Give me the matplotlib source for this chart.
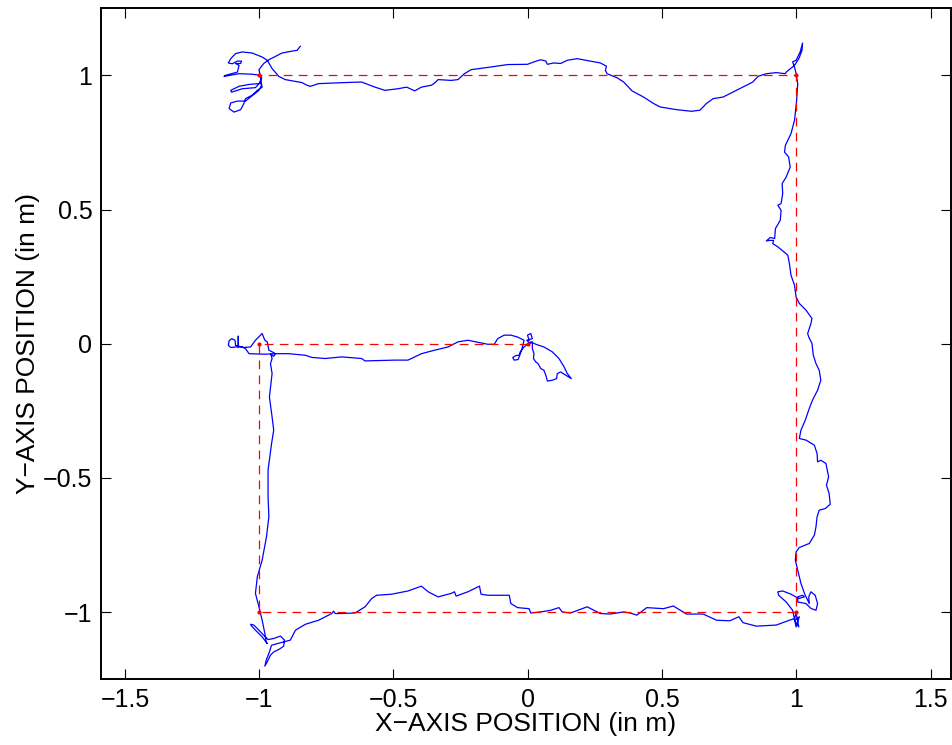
import numpy as np
import matplotlib
matplotlib.use("Agg")
import matplotlib.pyplot as plt

plt.rcParams['font.family'] = ['Liberation Sans', 'DejaVu Sans']

# commanded path (waypoints)
ref_x = [0, -1, -1, 1, 1, -1]
ref_y = [0, 0, -1, -1, 1, 1]

# measured robot position, one leg at a time (in m)
start_x = [0.005, -0.001, 0.011, 0.017, -0.004, 0.009, 0.017, 0.017, 0.023, 0.021, 0.030, 0.038,
           0.048, 0.060, 0.067, 0.073, 0.091, 0.107, 0.110, 0.122, 0.141, 0.162, 0.147, 0.135,
           0.116, 0.091, 0.060, 0.030, 0.011, -0.014, -0.028, -0.032, -0.044, -0.056, -0.051,
           -0.036, -0.032, -0.023, -0.014, -0.038, -0.063, -0.088, -0.112, -0.125]
start_y = [0.013, 0.032, 0.038, 0.019, 0.013, 0.001, 0.007, -0.018, -0.037, -0.055, -0.068, -0.074,
           -0.092, -0.099, -0.117, -0.139, -0.136, -0.130, -0.111, -0.105, -0.117, -0.130, -0.111, -0.086,
           -0.055, -0.030, -0.012, -0.002, 0.007, -0.012, -0.030, -0.043, -0.044, -0.051, -0.061,
           -0.059, -0.048, -0.024, 0.013, 0.025, 0.032, 0.032, 0.019, -0.002]

leg1_x = [-0.149, -0.223, -0.260, -0.297, -0.347, -0.396, -0.446, -0.495, -0.606, -0.619, -0.693,
          -0.754, -0.804, -0.828, -0.890, -0.940, -0.977, -1.038, -1.051, -1.063, -1.078, -1.078,
          -1.078, -1.088, -1.106, -1.115, -1.112, -1.102, -1.090, -1.088, -1.057, -1.032, -1.014,
          -0.989, -0.979, -0.970, -0.964, -0.952, -0.940, -0.946, -0.957, -0.952, -0.958, -0.952]
leg1_y = [-0.002, 0.013, 0.007, -0.012, -0.024, -0.037, -0.061, -0.061, -0.064, -0.055, -0.049,
          -0.055, -0.051, -0.043, -0.037, -0.037, -0.039, -0.037, -0.018, -0.012, -0.012, 0.028,
          -0.012, -0.012, -0.014, -0.006, 0.011, 0.019, 0.013, -0.006, -0.014, -0.012, 0.013,
          0.038, 0.013, 0.007, -0.024, -0.030, -0.037, -0.047, -0.039, -0.055, -0.074, -0.111]

leg2_x = [-0.962, -0.952, -0.946, -0.954, -0.967, -0.967, -0.964, -0.973, -0.989, -1.007, -1.014,
          -1.001, -0.989, -0.979, -0.974, -0.970, -0.989, -1.014, -1.028, -1.032, -1.020, -1.007,
          -0.983, -0.967, -0.946, -0.921, -0.906, -0.909, -0.927, -0.946, -0.958, -0.970, -0.979,
          -0.974, -0.962, -0.954]
leg2_y = [-0.198, -0.273, -0.322, -0.372, -0.471, -0.571, -0.645, -0.720, -0.806, -0.868, -0.930,
          -0.980, -1.030, -1.079, -1.111, -1.117, -1.092, -1.067, -1.052, -1.045, -1.048, -1.061,
          -1.086, -1.102, -1.098, -1.089, -1.104, -1.127, -1.139, -1.148, -1.160, -1.185, -1.201,
          -1.179, -1.148, -1.123]

leg3_x = [-0.884, -0.865, -0.828, -0.779, -0.730, -0.723, -0.717, -0.693, -0.643, -0.606, -0.581,
          -0.563, -0.507, -0.446, -0.396, -0.371, -0.334, -0.285, -0.273, -0.267, -0.223, -0.180,
          -0.174, -0.149, -0.069, -0.063, -0.038, 0.005, 0.011, 0.048, 0.085, 0.116, 0.128, 0.159,
          0.221, 0.270, 0.307, 0.357, 0.381, 0.406, 0.443, 0.505, 0.542, 0.591, 0.653, 0.703,
          0.752, 0.786, 0.801, 0.851, 0.925, 0.974, 0.993, 0.999, 1.009, 0.993, 1.011, 0.999,
          0.986, 0.962, 0.934, 0.931, 0.949, 0.980, 1.009, 1.030, 1.023, 1.005, 1.005, 1.036,
          1.054, 1.073, 1.079, 1.070, 1.054, 1.046, 1.048]
leg3_y = [-1.104, -1.067, -1.045, -1.030, -1.005, -0.996, -1.005, -1.005, -1.003, -0.980, -0.949,
          -0.937, -0.933, -0.921, -0.903, -0.924, -0.943, -0.930, -0.924, -0.940, -0.924, -0.903,
          -0.933, -0.937, -0.937, -0.968, -0.983, -0.987, -1.003, -0.999, -0.993, -0.983, -0.999,
          -1.003, -0.980, -1.005, -1.007, -0.999, -1.003, -1.011, -0.983, -0.987, -0.977, -1.007,
          -1.007, -1.030, -1.032, -1.017, -1.039, -1.052, -1.048, -1.030, -1.024, -1.005, -1.055,
          -1.030, -1.017, -1.055, -0.993, -0.962, -0.937, -0.924, -0.921, -0.933, -0.949, -0.943,
          -0.937, -0.943, -0.962, -0.968, -0.986, -0.993, -0.968, -0.937, -0.924, -0.943, -0.968]

leg4_x = [1.030, 1.017, 1.005, 0.996, 0.999, 1.011, 1.048, 1.067, 1.073, 1.077, 1.085, 1.107,
          1.126, 1.122, 1.112, 1.120, 1.110, 1.091, 1.079, 1.077, 1.067, 1.036, 1.011, 1.017,
          1.033, 1.048, 1.060, 1.079, 1.091, 1.085, 1.073, 1.063, 1.058, 1.046, 1.042, 1.054,
          1.058, 1.036, 1.011, 0.999, 0.993, 0.980, 0.974, 0.968, 0.949, 0.931, 0.912, 0.915,
          0.900, 0.888, 0.903, 0.919, 0.922, 0.940, 0.943, 0.931, 0.943, 0.949, 0.947, 0.962,
          0.977, 0.971, 0.956, 0.959, 0.980, 0.993, 1.001, 1.005, 0.999, 0.993, 0.986, 0.999,
          1.014, 1.023, 1.021, 1.009, 0.993]
leg4_y = [-0.930, -0.893, -0.844, -0.806, -0.775, -0.759, -0.744, -0.713, -0.682, -0.645, -0.620,
          -0.614, -0.598, -0.558, -0.527, -0.496, -0.446, -0.434, -0.440, -0.409, -0.378, -0.359,
          -0.353, -0.322, -0.285, -0.241, -0.210, -0.173, -0.136, -0.099, -0.074, -0.043, 0.001,
          0.025, 0.038, 0.075, 0.094, 0.125, 0.150, 0.174, 0.218, 0.255, 0.299, 0.330, 0.346,
          0.361, 0.373, 0.385, 0.385, 0.383, 0.396, 0.392, 0.429, 0.460, 0.497, 0.516, 0.522,
          0.559, 0.597, 0.621, 0.658, 0.696, 0.714, 0.739, 0.783, 0.832, 0.907, 0.969, 1.006,
          1.031, 1.050, 1.056, 1.087, 1.120, 1.093, 1.062, 1.037]

leg5_x = [0.962, 0.959, 0.925, 0.888, 0.857, 0.838, 0.777, 0.727, 0.690, 0.665, 0.641, 0.610,
          0.554, 0.493, 0.468, 0.431, 0.388, 0.375, 0.357, 0.332, 0.295, 0.289, 0.293, 0.270,
          0.233, 0.184, 0.147, 0.122, 0.097, 0.073, 0.067, 0.048, 0.023, -0.001, -0.075, -0.137,
          -0.211, -0.236, -0.260, -0.285, -0.334, -0.347, -0.359, -0.396, -0.421, -0.451, -0.483,
          -0.532, -0.569, -0.619, -0.680, -0.779, -0.810, -0.822, -0.841, -0.903, -0.927, -0.952,
          -0.970, -0.989, -1.026]
leg5_y = [1.012, 1.006, 1.010, 1.006, 0.996, 0.975, 0.944, 0.919, 0.913, 0.895, 0.870, 0.866,
          0.872, 0.882, 0.895, 0.919, 0.942, 0.956, 0.975, 0.991, 1.006, 1.019, 1.034, 1.046,
          1.053, 1.062, 1.056, 1.044, 1.046, 1.041, 1.053, 1.058, 1.050, 1.041, 1.040, 1.031,
          1.021, 1.006, 0.984, 0.981, 0.984, 0.971, 0.963, 0.956, 0.942, 0.956, 0.950,
          0.944, 0.956, 0.975, 0.973, 0.969, 0.959, 0.963, 0.973, 0.984, 0.996, 1.025,
          1.056, 1.068, 1.083]

end_x = [-1.063, -1.088, -1.106, -1.115, -1.100, -1.081, -1.066, -1.069, -1.088, -1.075, -1.081,
         -1.125, -1.131, -1.075, -1.026, -0.995, -0.991, -1.001, -1.038, -1.075, -1.106, -1.103,
         -1.063, -1.014, -0.995, -0.989, -1.007, -1.026, -1.051, -1.057, -1.069, -1.094, -1.112,
         -1.106, -1.081, -1.051, -1.001, -0.991, -0.995, -1.001, -0.983, -0.964, -0.915, -0.878,
         -0.859, -0.847]
end_y = [1.087, 1.081, 1.062, 1.046, 1.043, 1.053, 1.053, 1.044, 1.044, 1.037, 1.012,
         1.000, 0.996, 1.006, 1.004, 1.000, 0.988, 0.969, 0.966, 0.959, 0.944, 0.937,
         0.950, 0.954, 0.975, 0.956, 0.944, 0.926, 0.913, 0.895, 0.872, 0.863, 0.876,
         0.897, 0.904, 0.904, 0.944, 0.963, 0.994, 1.021, 1.044, 1.058, 1.083, 1.090,
         1.093, 1.108]

traj_x = np.concatenate([start_x, leg1_x, leg2_x, leg3_x, leg4_x, leg5_x, end_x])
traj_y = np.concatenate([start_y, leg1_y, leg2_y, leg3_y, leg4_y, leg5_y, end_y])

fig = plt.figure(figsize=(9.53, 7.45), dpi=100)
ax = fig.add_axes([0.1057, 0.0882, 0.8923, 0.9008])

ax.plot(traj_x, traj_y, color='blue', linewidth=0.9)
ax.plot(ref_x, ref_y, color='red', linewidth=0.9, linestyle='--', dashes=(7, 5),
        marker='.', markersize=4)

ax.set_xlim(-1.59, 1.576)
ax.set_ylim(-1.25, 1.25)
ax.set_xticks([-1.5, -1, -0.5, 0, 0.5, 1, 1.5])
ax.set_yticks([-1, -0.5, 0, 0.5, 1])
ax.set_xticklabels(['\u22121.5', '\u22121', '\u22120.5', '0', '0.5', '1', '1.5'])
ax.set_yticklabels(['\u22121', '\u22120.5', '0', '0.5', '1'])
ax.tick_params(direction='in', length=7, width=0.8, top=True, right=True,
               labelsize=18, pad=6)
for side in ax.spines.values():
    side.set_linewidth(1.4)

ax.set_xlabel('X\u2212AXIS POSITION (in m)', fontsize=19, labelpad=0)
ax.set_ylabel('Y\u2212AXIS POSITION (in m)', fontsize=19, labelpad=2)

fig.savefig('out.png', dpi=100)
